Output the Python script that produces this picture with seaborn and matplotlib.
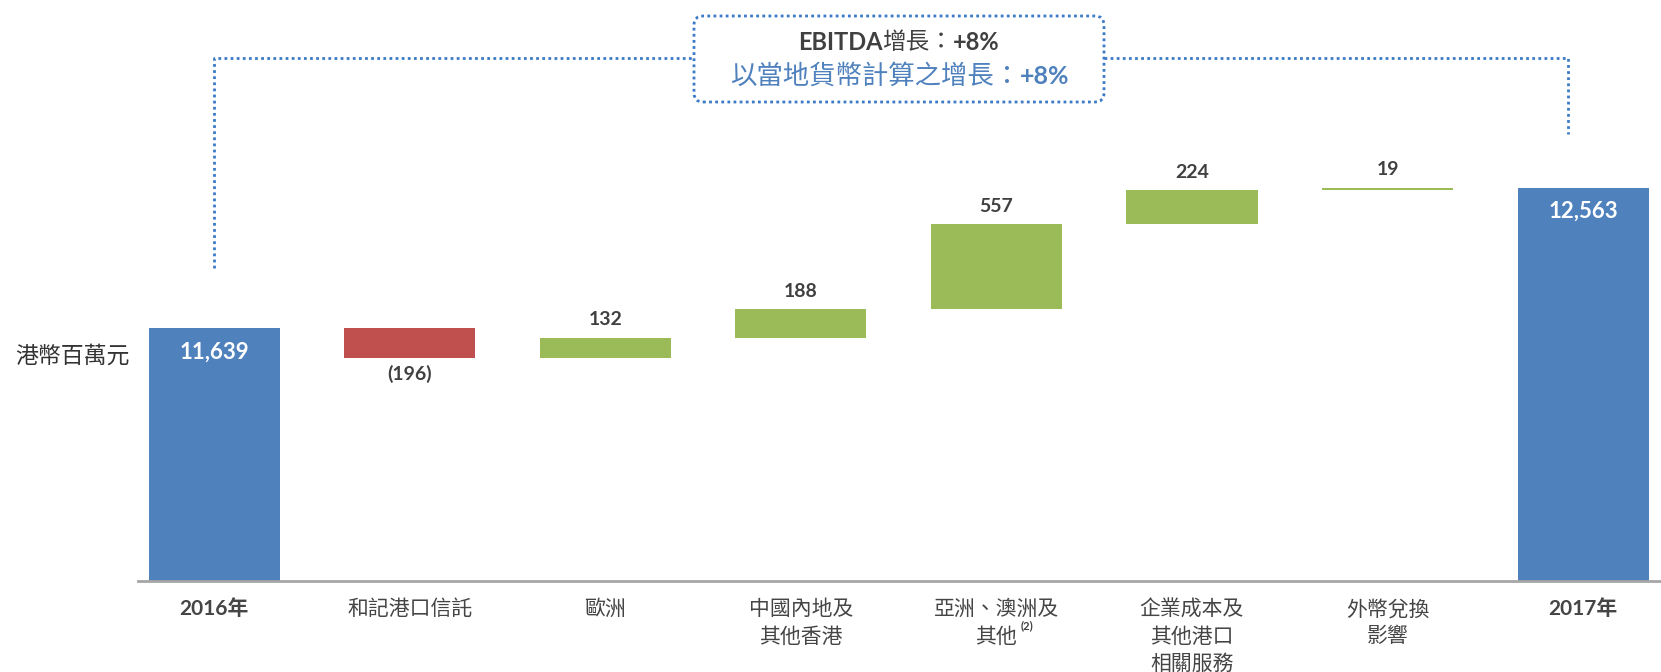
import matplotlib
matplotlib.use("Agg")
from matplotlib import pyplot as plt
from matplotlib.patches import FancyBboxPatch
from matplotlib.transforms import IdentityTransform
import seaborn as sns

# 數據
categories = ['2016年', '和記港口信託', '歐洲', '中國內地及\n其他香港', '亞洲、澳洲及\n其他',
              '企業成本及\n其他港口\n相關服務', '外幣兌換\n影響', '2017年']
start_total = 11639
changes = [-196, 132, 188, 557, 224, 19]
end_total = 12563
kinds = ['total', 'neg', 'pos', 'pos', 'pos', 'pos', 'pos', 'total']

colors = {'total': '#4f81bd', 'neg': '#c0504d', 'pos': '#9bbb59'}
dark = '#404040'
blue_txt = '#4f81bd'
dot_blue = '#3b7ac6'

# 計算每條柱的底部和高度
bases, heights = [0], [start_total]
level = start_total
for c in changes:
    bases.append(level + min(c, 0))
    heights.append(abs(c))
    level += c
bases.append(0)
heights.append(end_total)

W, H = 1661, 672
sns.set_style('white')
plt.rcParams['font.family'] = ['Lato', 'Noto Sans CJK TC', 'DejaVu Sans']

fig = plt.figure(figsize=(W / 100, H / 100), dpi=100)
ax = fig.add_axes([138 / W, 1 - 580.5 / H, 1523 / W, 580.5 / H])

sns.barplot(x=categories, y=heights, bottom=bases, width=0.67, color='#4f81bd',
            saturation=1, ax=ax)
for patch, k in zip(ax.patches, kinds):
    patch.set_facecolor(colors[k])
    patch.set_edgecolor('none')

ax.set_xlim(-0.389, 7.398)
ax.set_ylim(9979, 13796)
ax.set_yticks([])
ax.set_ylabel('')
for s in ['top', 'right', 'left']:
    ax.spines[s].set_visible(False)
ax.spines['bottom'].set_color('#a6a6a6')
ax.spines['bottom'].set_linewidth(2)

ax.tick_params(axis='x', length=0, pad=13.5)
ax.set_xticks(range(len(categories)))
ax.set_xticklabels(categories, fontsize=15, color='#454545', linespacing=1.45,
                   family=['Lato', 'Noto Sans CJK TC'])
for lbl in ax.get_xticklabels():
    if lbl.get_text().endswith('年'):
        lbl.set_fontweight('bold')

# 註腳上標
ax.annotate('(2)', xy=(4, 0), xycoords=('data', 'axes fraction'), xytext=(31, -45),
            textcoords='offset pixels', fontsize=8, fontweight='bold', color=dark,
            ha='center', va='center')

# 數值標籤
for i, (b, h, k) in enumerate(zip(bases, heights, kinds)):
    if k == 'total':
        ax.annotate(f'{h:,}', xy=(i, b + h), xytext=(0, -24), textcoords='offset pixels',
                    ha='center', va='center', color='white', fontsize=16, fontweight='bold')
    elif k == 'pos':
        ax.annotate(f'{h:,}', xy=(i, b + h), xytext=(0, 18), textcoords='offset pixels',
                    ha='center', va='center', color=dark, fontsize=14, fontweight='bold')
    else:
        ax.annotate(f'({h:,})', xy=(i, b), xytext=(0, -16), textcoords='offset pixels',
                    ha='center', va='center', color=dark, fontsize=14, fontweight='bold')

# 增長括號
top_y = end_total + 852
left_low = start_total + 395
right_low = end_total + 349
right_x = len(categories) - 1 - 0.078
line_kw = dict(color=dot_blue, linestyle=(0, (1, 1.2)), linewidth=2, clip_on=False)
ax.plot([0, 0, right_x, right_x], [left_low, top_y, top_y, right_low], **line_kw)

# 文字框
box = FancyBboxPatch((694, H - 102), 410, 86, boxstyle='round,pad=0,rounding_size=9',
                     transform=IdentityTransform(), facecolor='white', edgecolor=dot_blue,
                     linestyle=(0, (1, 1.2)), linewidth=2, zorder=5)
fig.patches.append(box)

renderer = fig.canvas.get_renderer()


def rich_line(parts, cx, cy):
    objs = [fig.text(0, cy / H, s, va='center', ha='left', zorder=6, **kw) for s, kw in parts]
    widths = [t.get_window_extent(renderer).width for t in objs]
    x = cx - sum(widths) / 2
    for t, w in zip(objs, widths):
        t.set_x(x / W)
        x += w


rich_line([('EBITDA', dict(fontsize=17, fontweight='bold', color=dark)),
           ('增長：', dict(fontsize=17, color=dark)),
           ('+8%', dict(fontsize=17, fontweight='bold', color=dark))], 899, H - 42)
rich_line([('以當地貨幣計算之增長：', dict(fontsize=19, color=blue_txt)),
           ('+8%', dict(fontsize=18, fontweight='bold', color=blue_txt))], 900, H - 76)

fig.text(15 / W, 1 - 356 / H, '港幣百萬元', fontsize=16.5, color='#333333',
         ha='left', va='center', family=['Noto Sans CJK TC'])

fig.savefig('out.png', dpi=100, facecolor='white')
